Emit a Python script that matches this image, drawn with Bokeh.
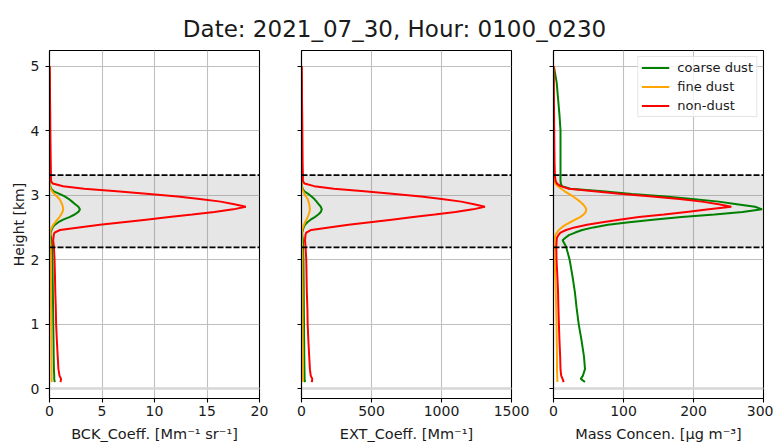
from bokeh.plotting import figure
from bokeh.layouts import column, row
from bokeh.models import Range1d, Span, BoxAnnotation, Legend, LegendItem, Label
from bokeh.embed import file_html
from bokeh.resources import INLINE

# ---------------- data ----------------
title_text = "Date: 2021_07_30, Hour: 0100_0230"

height_km = [0.10, 0.15, 0.20, 0.30, 0.50, 0.75, 1.00, 1.25, 1.50, 1.75, 2.00, 2.20,
             2.30, 2.34, 2.38, 2.42, 2.46, 2.50, 2.54, 2.58, 2.62, 2.66, 2.70, 2.74,
             2.78, 2.82, 2.86, 2.90, 2.94, 2.98, 3.02, 3.06, 3.10, 3.14, 3.18, 3.22,
             3.30, 3.50, 3.75, 4.00, 4.25, 4.50, 4.75, 5.00]

# backscatter coefficient [Mm-1 sr-1]
bck_coarse = [0.50, 0.45, 0.45, 0.42, 0.40, 0.38, 0.36, 0.34, 0.32, 0.30, 0.28, 0.25,
              0.20, 0.15, 0.10, 0.10, 0.20, 0.30, 0.50, 0.85, 1.30, 1.90, 2.40, 2.75,
              2.90, 2.75, 2.45, 2.15, 1.85, 1.45, 0.95, 0.40, 0.15, 0.07, 0.04, 0.03,
              0.03, 0.03, 0.02, 0.02, 0.02, 0.01, 0.01, 0.00]
bck_fine = [0.22, 0.20, 0.20, 0.20, 0.19, 0.18, 0.17, 0.16, 0.15, 0.14, 0.12, 0.10,
            0.05, 0.04, 0.04, 0.06, 0.12, 0.22, 0.36, 0.55, 0.75, 0.95, 1.10, 1.24,
            1.30, 1.27, 1.20, 1.08, 0.95, 0.70, 0.45, 0.25, 0.10, 0.04, 0.02, 0.01,
            0.01, 0.01, 0.00, 0.00, 0.00, 0.00, 0.00, 0.00]
bck_nondust = [1.05, 1.10, 0.95, 0.85, 0.78, 0.70, 0.63, 0.60, 0.55, 0.52, 0.48, 0.42,
               0.35, 0.38, 0.40, 0.48, 1.00, 2.80, 4.80, 7.00, 9.20, 11.4, 13.6, 15.7,
               17.5, 18.7, 17.6, 16.3, 14.3, 12.2, 9.50, 6.40, 3.30, 1.30, 0.30, 0.15,
               0.14, 0.12, 0.10, 0.08, 0.07, 0.05, 0.04, 0.02]

# extinction coefficient [Mm-1]
ext_coarse = [25, 22, 22, 21, 20, 19, 18, 17, 16, 15, 14, 12,
              10, 8, 5, 5, 10, 15, 25, 42, 65, 95, 120, 138,
              145, 138, 122, 108, 92, 72, 48, 20, 8, 3.5, 2, 1.5,
              1.5, 1.5, 1, 1, 1, 0.5, 0.5, 0]
ext_fine = [10, 9, 9, 9, 9, 8, 8, 7, 7, 6, 6, 5,
            2.3, 1.8, 1.8, 2.8, 5.5, 10, 17, 25, 35, 44, 51, 57,
            60, 58, 55, 50, 44, 32, 21, 11.5, 4.6, 1.8, 0.9, 0.5,
            0.5, 0.5, 0, 0, 0, 0, 0, 0]
ext_nondust = [74, 77, 66, 60, 55, 49, 44, 42, 38, 36, 34, 29,
               25, 27, 28, 34, 70, 196, 336, 490, 644, 798, 952, 1099,
               1225, 1310, 1232, 1141, 1001, 854, 665, 448, 231, 91, 21, 10,
               10, 8, 7, 6, 5, 3.5, 3, 1.4]

# mass concentration [ug m-3]
mass_coarse = [45, 39, 42, 45, 43.5, 40, 36, 33, 30.5, 27, 23, 18,
               13, 17, 22, 31, 41, 57, 78, 108, 142, 183, 230, 270,
               298, 288, 262, 236, 198, 160, 112, 70, 24, 12, 10.5, 10,
               10, 10, 10, 10, 8.5, 6.5, 4.5, 0.5]
mass_fine = [5.5, 5.5, 5.3, 5.0, 5.0, 4.6, 4.3, 3.8, 3.2, 2.5, 1.5, 1.2,
             1.5, 2.0, 2.6, 5, 7.5, 12, 17, 24, 31, 38, 43, 46,
             47, 45, 42, 38, 33, 28, 22, 16, 11, 6, 2.5, 1.2,
             0.8, 0.6, 0.5, 0.5, 0.4, 0.3, 0.2, 0.1]
mass_nondust = [14.5, 13, 11, 10, 9.5, 8.5, 7.7, 7, 6.5, 5.5, 4.3, 4.0,
                4.5, 5, 7, 10, 18, 30, 48, 70, 94, 122, 158, 190,
                222, 254, 236, 212, 180, 141, 98, 58, 22, 10, 5, 3,
                2, 1.5, 1.2, 1.0, 0.8, 0.6, 0.4, 0.3]

layer_base_km = 2.19
layer_top_km = 3.31

series_labels = ["coarse dust", "fine dust", "non-dust"]
series_colors = ["green", "orange", "red"]

x_labels = ["BCK_Coeff. [Mm\u207b\u00b9 sr\u207b\u00b9]",
            "EXT_Coeff. [Mm\u207b\u00b9]",
            "Mass Concen. [\u00b5g m\u207b\u00b3]"]
x_limits = [(0, 20), (0, 1500), (0, 300)]
x_ticks = [[0, 5, 10, 15, 20], [0, 500, 1000, 1500], [0, 100, 200, 300]]
y_ticks = [0, 1, 2, 3, 4, 5]
y_label = "Height [km]"

FONT = "DejaVu Sans"
TXT = "#1a1a1a"

# ---------------- title strip ----------------
STRIP_H = 44
pt = figure(width=773, height=STRIP_H, toolbar_location=None, output_backend="svg",
            min_border=0, x_range=(0, 1), y_range=(0, 1))
pt.add_layout(Label(x=394, y=STRIP_H - 28.5, x_units="screen", y_units="screen",
                    text=title_text, text_align="center",
                    text_baseline="alphabetic", text_font=FONT,
                    text_font_size="23px", text_color=TXT))
pt.axis.visible = False
pt.grid.visible = False
pt.outline_line_color = None
pt.background_fill_color = None
pt.border_fill_color = None


def make_panel(i, data, left, right):
    p = figure(frame_width=210, frame_height=348, toolbar_location=None,
               output_backend="svg",
               x_range=Range1d(*x_limits[i]), y_range=Range1d(-0.155, 5.245),
               min_border_left=left, min_border_right=right,
               min_border_top=6, min_border_bottom=48)
    p.border_fill_color = None
    p.outline_line_color = "black"
    p.outline_line_width = 1.1
    p.background_fill_color = "white"
    p.grid.grid_line_color = "#bfbfbf"
    p.grid.grid_line_width = 1.1
    p.xaxis.ticker = x_ticks[i]
    p.yaxis.ticker = y_ticks
    for ax in (p.xaxis[0], p.yaxis[0]):
        ax.major_tick_in = 0
        ax.major_tick_out = 4
        ax.minor_tick_in = 0
        ax.minor_tick_out = 0
        ax.axis_line_color = "black"
        ax.axis_line_width = 1.1
        ax.major_tick_line_color = "black"
        ax.major_tick_line_width = 1.1
        ax.major_label_text_font = FONT
        ax.major_label_text_font_size = "14px"
        ax.major_label_text_color = TXT
        ax.axis_label_text_font = FONT
        ax.axis_label_text_font_size = "14.5px"
        ax.axis_label_text_font_style = "normal"
        ax.axis_label_text_color = TXT
    p.xaxis.major_label_standoff = 3
    p.xaxis.axis_label_standoff = 7
    p.xaxis.axis_label = x_labels[i]
    if i == 0:
        p.yaxis.axis_label = y_label
        p.yaxis.axis_label_text_font_size = "14px"
        p.yaxis.major_label_standoff = 6
        p.yaxis.axis_label_standoff = 1
    else:
        p.yaxis.major_label_text_color = None
        p.yaxis.major_label_text_font_size = "1px"
        p.yaxis.major_label_standoff = 0

    # dust layer shading and limits
    p.add_layout(BoxAnnotation(bottom=layer_base_km, top=layer_top_km,
                               fill_color="gray", fill_alpha=0.2,
                               line_color=None, level="underlay"))
    p.add_layout(Span(location=0, dimension="width", line_color="#d6d6d6",
                      line_width=2.5, level="underlay"))

    rends = []
    for vals, col in zip(data, series_colors):
        r = p.line(vals, height_km, line_color=col, line_width=2)
        rends.append(r)

    for loc in (layer_base_km, layer_top_km):
        p.add_layout(Span(location=loc, dimension="width", line_color="black",
                          line_width=1.8, line_dash="6 2"))
    return p, rends


p1, _ = make_panel(0, [bck_coarse, bck_fine, bck_nondust], 49, 21)
p2, _ = make_panel(1, [ext_coarse, ext_fine, ext_nondust], 21, 21)
p3, r3 = make_panel(2, [mass_coarse, mass_fine, mass_nondust], 21, 10)

legend = Legend(items=[LegendItem(label=lab, renderers=[r])
                       for lab, r in zip(series_labels, r3)],
                location="top_right")
legend.label_text_font = FONT
legend.label_text_font_size = "13px"
legend.label_text_color = TXT
legend.glyph_width = 28
legend.glyph_height = 15
legend.label_height = 15
legend.spacing = 4
legend.padding = 3
legend.margin = 6
legend.label_standoff = 8
legend.border_line_color = "#cccccc"
legend.border_line_width = 1
legend.background_fill_alpha = 0.8
p3.add_layout(legend)

layout = column(pt, row(p1, p2, p3, spacing=0), spacing=0)

open("out.html", "w").write(file_html(layout, INLINE))
